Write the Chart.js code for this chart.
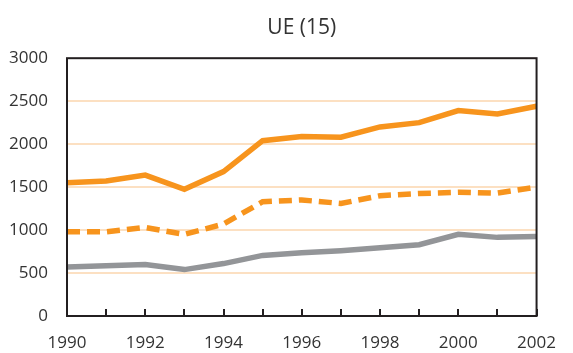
<!DOCTYPE html>
<html>
<head>
<meta charset="utf-8">
<title>UE (15)</title>
<script src="https://cdn.jsdelivr.net/npm/chart.js@4"></script>
<style>
  html, body { margin: 0; padding: 0; background: #fff; }
  #wrap { width: 573px; height: 353px; }
</style>
</head>
<body>
<div id="wrap"><canvas id="ueChart" width="573" height="353"></canvas></div>
<script>
// years on the category axis, one point per year
const years = ['1990', '1991', '1992', '1993', '1994', '1995', '1996',
               '1997', '1998', '1999', '2000', '2001', '2002'];

// top solid orange series
const totalSeries = [1550, 1570, 1640, 1475, 1680, 2040, 2090,
                     2080, 2200, 2250, 2390, 2350, 2440];

// dashed orange series
const middleSeries = [980, 980, 1030, 950, 1070, 1330, 1350,
                      1310, 1400, 1425, 1440, 1430, 1500];

// grey series
const lowerSeries = [570, 585, 600, 540, 610, 705, 735,
                     760, 795, 830, 950, 915, 925];

const yTicks = [0, 500, 1000, 1500, 2000, 2500, 3000];

const orange = '#F7941D';
const grey = '#939598';
const gridPeach = '#FCE0C2';
const textColor = '#333333';
const frameColor = '#231f20';

// box around the plot area plus short inward tick marks on the year axis
const frame = {
    id: 'frame',
    afterDraw(chart) {
        const a = chart.chartArea;
        const ctx = chart.ctx;
        const x = chart.scales.x;
        ctx.save();
        ctx.strokeStyle = frameColor;
        ctx.lineWidth = 2;
        ctx.beginPath();
        years.forEach((y, i) => {
            const px = Math.round(x.getPixelForValue(i));
            ctx.moveTo(px, a.bottom);
            ctx.lineTo(px, a.bottom - 7);
        });
        ctx.stroke();
        ctx.strokeRect(a.left, a.top, a.right - a.left, a.bottom - a.top);
        ctx.restore();
    }
};

new Chart(document.getElementById('ueChart'), {
    type: 'line',
    data: {
        labels: years,
        datasets: [
            {
                data: totalSeries,
                borderColor: orange,
                borderWidth: 5.5,
                pointRadius: 0,
                tension: 0
            },
            {
                data: middleSeries,
                borderColor: orange,
                borderWidth: 5.5,
                borderDash: [13, 7],
                pointRadius: 0,
                tension: 0
            },
            {
                data: lowerSeries,
                borderColor: grey,
                borderWidth: 5.5,
                pointRadius: 0,
                tension: 0
            }
        ]
    },
    options: {
        responsive: false,
        animation: false,
        layout: { padding: { left: 0, right: 23, top: 0, bottom: 0 } },
        plugins: {
            legend: { display: false },
            tooltip: { enabled: false },
            title: {
                display: true,
                text: 'UE (15)',
                fullSize: false,
                color: textColor,
                font: { family: 'Open Sans', size: 21, weight: 'normal' },
                padding: { top: 15, bottom: 18 }
            }
        },
        scales: {
            x: {
                offset: false,
                border: { display: false },
                grid: { display: false, drawTicks: false },
                ticks: {
                    autoSkip: false,
                    maxRotation: 0,
                    padding: 17,
                    color: textColor,
                    font: { family: 'Open Sans', size: 17 },
                    callback: (val, i) => (i % 2 === 0 ? years[i] : '')
                },
                afterFit(scale) { scale.height = 37; }
            },
            y: {
                min: 0,
                max: 3000,
                border: { display: false },
                afterBuildTicks(scale) {
                    scale.ticks = yTicks.map(v => ({ value: v }));
                },
                grid: {
                    drawTicks: false,
                    lineWidth: 2,
                    color: ctx => (ctx.tick && (ctx.tick.value === 0 || ctx.tick.value === 3000)
                        ? 'rgba(0,0,0,0)' : gridPeach)
                },
                ticks: {
                    padding: 19,
                    color: textColor,
                    font: { family: 'Open Sans', size: 17 },
                    callback: v => String(v)
                },
                afterFit(scale) { scale.width = 67; }
            }
        }
    },
    plugins: [frame]
});
</script>
</body>
</html>
